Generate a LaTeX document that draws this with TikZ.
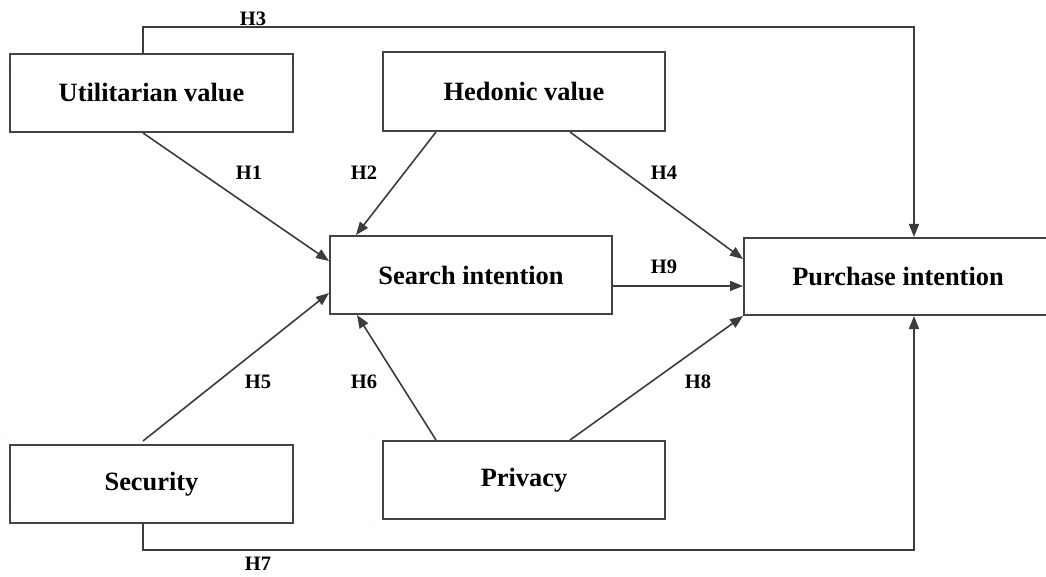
\documentclass[tikz,border=0pt]{standalone}
\usepackage{fontspec}
\setmainfont{Liberation Serif}
\usetikzlibrary{arrows.meta,calc}
\definecolor{boxc}{RGB}{60,68,80}
\definecolor{linec}{RGB}{60,60,60}
\tikzset{
  construct/.style={draw=boxc, line width=2pt, fill=white, rectangle,
    inner sep=0pt, font=\fontsize{26.4}{30}\selectfont\bfseries},
  arr/.style={draw=linec, line width=1.6pt,
    -{Triangle[length=13pt,width=10pt]}},
  hyp/.style={font=\fontsize{20.5}{24}\selectfont\bfseries, inner sep=0pt}
}
\begin{document}
\begin{tikzpicture}[x=1pt,y=-1pt]
  \useasboundingbox (0,0) rectangle (1046,577);

  % constructs
  \node[construct, minimum width=283pt, minimum height=78pt] (util)   at (151.5,93)  {Utilitarian value};
  \node[construct, minimum width=282pt, minimum height=79pt] (hed)    at (524,91.5)  {Hedonic value};
  \node[construct, minimum width=282pt, minimum height=78pt] (search) at (471,275)   {Search intention};
  \node[construct, minimum width=308pt, minimum height=77pt] (purch)  at (898,276.5) {Purchase intention};
  \node[construct, minimum width=283pt, minimum height=78pt] (sec)    at (151.5,484) {Security};
  \node[construct, minimum width=282pt, minimum height=78pt] (priv)   at (524,480)   {Privacy};

  % hypothesised paths
  \draw[arr] ($(util.south west)+(134,0)$) -- ($(search.north west)+(0,26)$);
  \draw[arr] ($(hed.south west)+(54,0)$)   -- ($(search.north west)+(27,0)$);
  \draw[arr] ($(hed.south west)+(188,0)$)  -- ($(purch.north west)+(0,22)$);
  \draw[arr] ($(search.east)+(0,11)$) coordinate (h9s) -- (h9s -| purch.west);
  \draw[arr] ($(util.north west)+(134,0)$) -- ++(0,-26) -| ($(purch.north west)+(171,0)$);
  \draw[arr] ($(sec.north west)+(134,-3)$) -- ($(search.south west)+(0,-22)$);
  \draw[arr] ($(priv.north west)+(54,0)$)  -- ($(search.south west)+(28,0)$);
  \draw[arr] ($(priv.north west)+(188,0)$) -- (purch.south west);
  \draw[arr] ($(sec.south west)+(134,0)$)  -- ++(0,26) -| ($(purch.south west)+(171,0)$);

  % hypothesis labels
  \node[hyp] (l3) at (253,19)  {H3};
  \node[hyp] (l1) at (249,173) {H1};
  \node[hyp] (l2) at (364,173) {H2};
  \node[hyp] (l4) at (664,173) {H4};
  \node[hyp] (l9) at (664,267) {H9};
  \node[hyp] (l5) at (258,382) {H5};
  \node[hyp] (l6) at (364,382) {H6};
  \node[hyp] (l8) at (698,382) {H8};
  \node[hyp] (l7) at (258,564) {H7};
\end{tikzpicture}
\end{document}
